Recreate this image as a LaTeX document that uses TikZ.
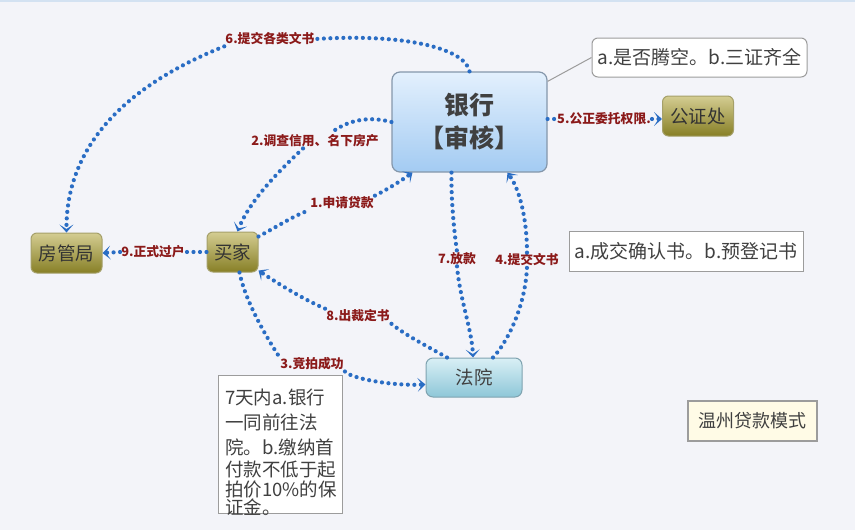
\documentclass[tikz,border=0pt]{standalone}
\usepackage{fontspec}
\setmainfont{Noto Sans CJK SC}
\usetikzlibrary{arrows.meta}
\definecolor{bg}{HTML}{F3F4F9}
\definecolor{topline}{HTML}{D3E2F2}
\definecolor{flowblue}{HTML}{2A6DC4}
\definecolor{labred}{HTML}{8B1A1A}
\definecolor{txt}{HTML}{404040}
\definecolor{bankT}{HTML}{E3F0FD}
\definecolor{bankB}{HTML}{A3CBF2}
\definecolor{bankD}{HTML}{8597AB}
\definecolor{oliveT}{HTML}{D4CD92}
\definecolor{oliveB}{HTML}{877F26}
\definecolor{oliveD}{HTML}{A5A06A}
\definecolor{courtT}{HTML}{D9EFF5}
\definecolor{courtB}{HTML}{8EC7D8}
\definecolor{courtD}{HTML}{7FA3B0}
\definecolor{noteD}{HTML}{9C9C9C}
\definecolor{titleF}{HTML}{FFFBE6}
\tikzset{
  bankbox/.style={draw=bankD, line width=1.2pt, top color=bankT, bottom color=bankB, rounded corners=8pt,
    minimum width=155pt, minimum height=100pt, inner sep=0pt, align=center, text=txt,
    font=\fontsize{25}{33}\selectfont\bfseries},
  olivebox/.style={draw=oliveD, line width=1pt, top color=oliveT, bottom color=oliveB, rounded corners=6pt,
    minimum height=40pt, inner sep=0pt, text=black!80, font=\fontsize{18.5}{20}\selectfont},
  courtbox/.style={draw=courtD, line width=1pt, top color=courtT, bottom color=courtB, rounded corners=7pt,
    minimum width=96pt, minimum height=39pt, inner sep=0pt, text=txt, font=\fontsize{18.5}{20}\selectfont},
  notebox/.style={draw=noteD, line width=1pt, fill=white, inner sep=0pt, text=txt,
    font=\fontsize{19}{22}\selectfont},
  noteline/.style={anchor=west, inner sep=0pt, text=txt, font=\fontsize{18.5}{20}\selectfont},
  titlebox/.style={draw=noteD, line width=1.2pt, fill=titleF, inner sep=0pt, text=txt,
    minimum width=129pt, minimum height=40pt, font=\fontsize{18}{20}\selectfont},
  lab/.style={inner sep=1pt, fill=bg, text=labred, font=\fontsize{12.8}{13}\selectfont\bfseries},
  flow/.style={draw=flowblue, line width=4.2pt, line cap=round, dash pattern=on 0pt off 6.5pt},
  flowa/.style={flow, -{Stealth[length=8pt,width=14pt,inset=4.5pt,line width=0pt,fill=flowblue]}},
  greyline/.style={draw=noteD, line width=1pt}
}
\begin{document}
\begin{tikzpicture}[x=1pt,y=-1pt]
\useasboundingbox (0,0) rectangle (855,530);
\fill[bg] (0,0) rectangle (855,530);
\draw[topline, line width=2pt] (0,1) -- (855,1);

% nodes
\node[bankbox] (bank) at (469.5,122) {银行\\【审核】};
\node[notebox, rounded corners=6pt, minimum width=215pt, minimum height=39pt] (n1) at (699.5,57.5) {a.是否腾空。b.三证齐全};
\node[olivebox, minimum width=71pt] (gzc) at (698,116) {公证处};
\node[olivebox, minimum width=71pt] (fgj) at (66.5,253) {房管局};
\node[olivebox, minimum width=51pt] (buyer) at (232.5,252) {买家};
\node[courtbox] (court) at (474,377.5) {法院};
\node[notebox, minimum width=234pt, minimum height=40pt] (n2) at (686,251) {a.成交确认书。b.预登记书};
\node[notebox, minimum width=124pt, minimum height=138pt] (n3) at (280,444) {};
\node[noteline] (t1) at (225,397) {7天内a.银行};
\node[noteline] (t2) at (225,422) {一同前往法};
\node[noteline] (t3) at (225,447) {院。b.缴纳首};
\node[noteline] (t4) at (225,470) {付款不低于起};
\node[noteline] (t5) at (225,490) {拍价10\%的保};
\node[noteline] (t6) at (225,507) {证金。};
\node[titlebox] (title) at (752.5,421) {温州贷款模式};

% labels
\node[lab] (l6) at (270,39) {6.提交各类文书};
\node[lab] (l2) at (315,141) {2.调查信用、名下房产};
\node[lab] (l1) at (342,203) {1.申请贷款};
\node[lab] (l9) at (153,252) {9.正式过户};
\node[lab] (l5) at (604,119) {5.公正委托权限.};
\node[lab] (l7) at (457,259) {7.放款};
\node[lab] (l4) at (527,260) {4.提交文书};
\node[lab] (l8) at (358,316) {8.出裁定书};
\node[lab] (l3) at (312,364) {3.竞拍成功};

% connectors
\draw[greyline] ([yshift=-10pt]bank.north east) -- (n1.west);

\draw[flow] (bank.north) .. controls (466,50) and (410,33) .. (l6.east);
\draw[flowa] (l6.south west) .. controls (120,88) and (66,150) .. (fgj.north);

\draw[flow] (bank.west) .. controls (365,115) and (345,122) .. ([xshift=15pt]l2.north);
\draw[flowa] ([xshift=-12pt]l2.south) .. controls (280,170) and (250,200) .. ([xshift=5pt]buyer.north);

\draw[flow] ([yshift=-5pt]buyer.north east) .. controls (280,225) and (295,215) .. (l1.south west);
\draw[flowa] (l1.north east) .. controls (390,188) and (402,180) .. ([xshift=-57pt]bank.south);

\draw[flow] (buyer.west) -- (l9.east);
\draw[flowa] (l9.west) -- (fgj.east);

\draw[flow] (l5.west -| bank.east) -- (l5.west);
\draw[flowa] (l5.east) -- (l5.east -| gzc.west);

\draw[flow] ([xshift=-18pt]bank.south) .. controls (451,200) and (454,230) .. (l7.north);
\draw[flowa] (l7.south) .. controls (460,300) and (472,330) .. ([xshift=-1pt]court.north);

\draw[flow] ([xshift=19pt]court.north) .. controls (505,345) and (525,310) .. (l4.south);
\draw[flowa] (l4.north) .. controls (527,220) and (520,190) .. ([xshift=38pt]bank.south);

\draw[flow] ([xshift=-27pt]court.north) .. controls (425,345) and (405,335) .. (l8.south east);
\draw[flowa] (l8.north west) .. controls (305,300) and (280,285) .. ([yshift=2pt]buyer.south east);

\draw[flow] ([xshift=7pt]buyer.south) .. controls (245,300) and (265,335) .. (l3.north west);
\draw[flowa] (l3.south east) .. controls (350,378) and (390,386) .. ([yshift=-7pt]court.west);
\end{tikzpicture}
\end{document}
